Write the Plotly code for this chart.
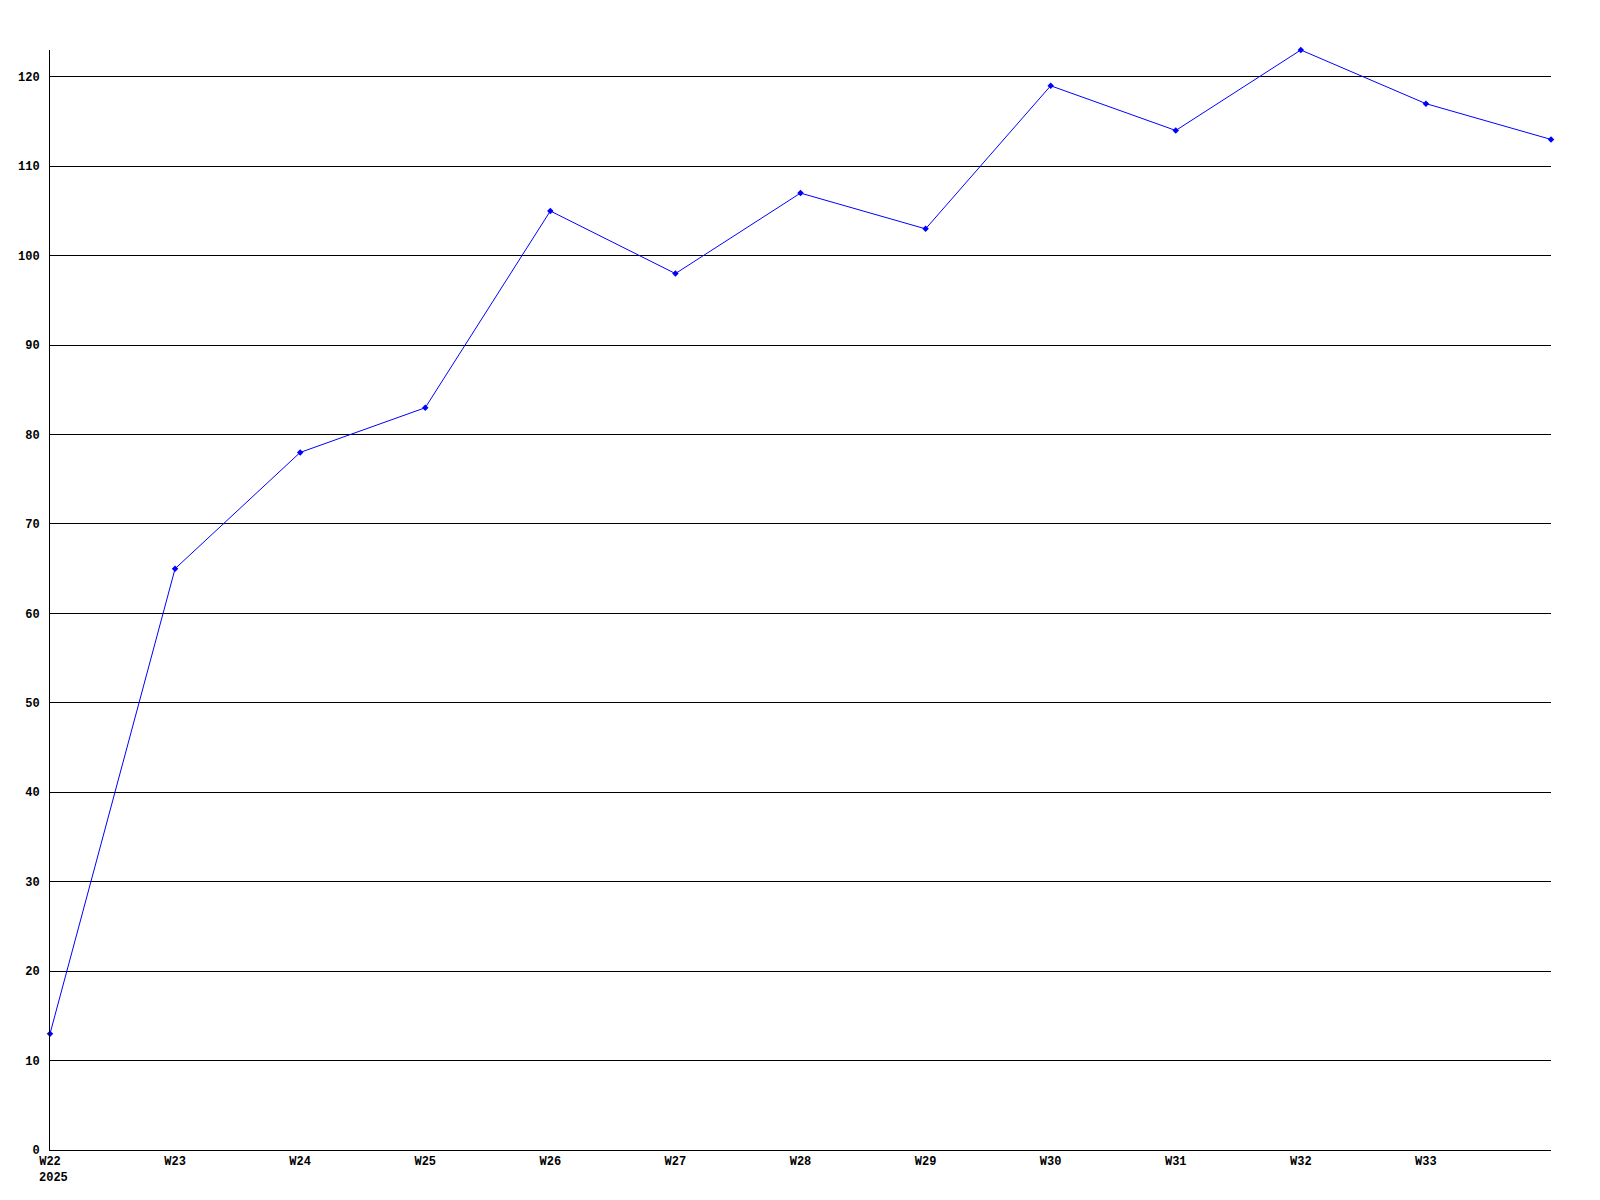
import plotly.graph_objects as go

weeks = [22, 23, 24, 25, 26, 27, 28, 29, 30, 31, 32, 33, 34]
values = [13, 65, 78, 83, 105, 98, 107, 103, 119, 114, 123, 117, 113]
x_tickvals = [22, 23, 24, 25, 26, 27, 28, 29, 30, 31, 32, 33]
x_ticktext = ["W22", "W23", "W24", "W25", "W26", "W27", "W28",
              "W29", "W30", "W31", "W32", "W33"]
year_label = "2025"
y_tickvals = [0, 10, 20, 30, 40, 50, 60, 70, 80, 90, 100, 110, 120]

font = dict(family="Liberation Mono, DejaVu Sans Mono, monospace", size=12,
            color="black", weight="bold")

fig = go.Figure(go.Scatter(
    x=weeks, y=values, mode="lines+markers",
    line=dict(color="#0000ff", width=1),
    marker=dict(color="#0000ff", size=5, symbol="diamond"),
    cliponaxis=False,
))

fig.add_annotation(
    x=weeks[0], xref="x", y=0, yref="paper", text=year_label,
    showarrow=False, xanchor="left", yanchor="top",
    xshift=-13, yshift=-19, font=font,
)

fig.update_layout(
    width=1600, height=1200,
    margin=dict(l=42, r=57, t=42, b=58, autoexpand=False),
    paper_bgcolor="white", plot_bgcolor="white",
    showlegend=False,
    font=font,
    xaxis=dict(range=[22, 34], tickvals=x_tickvals, ticktext=x_ticktext,
               showgrid=False, zeroline=False, showline=True,
               linecolor="black", linewidth=1, ticks="", tickfont=font,
               automargin=False),
    yaxis=dict(range=[0, 123], tickvals=y_tickvals,
               showgrid=True, gridcolor="black", gridwidth=1,
               zeroline=False, showline=True, linecolor="black", linewidth=1,
               ticks="", ticklabelstandoff=7, tickfont=font, automargin=False),
)

fig.write_html("out.html")
